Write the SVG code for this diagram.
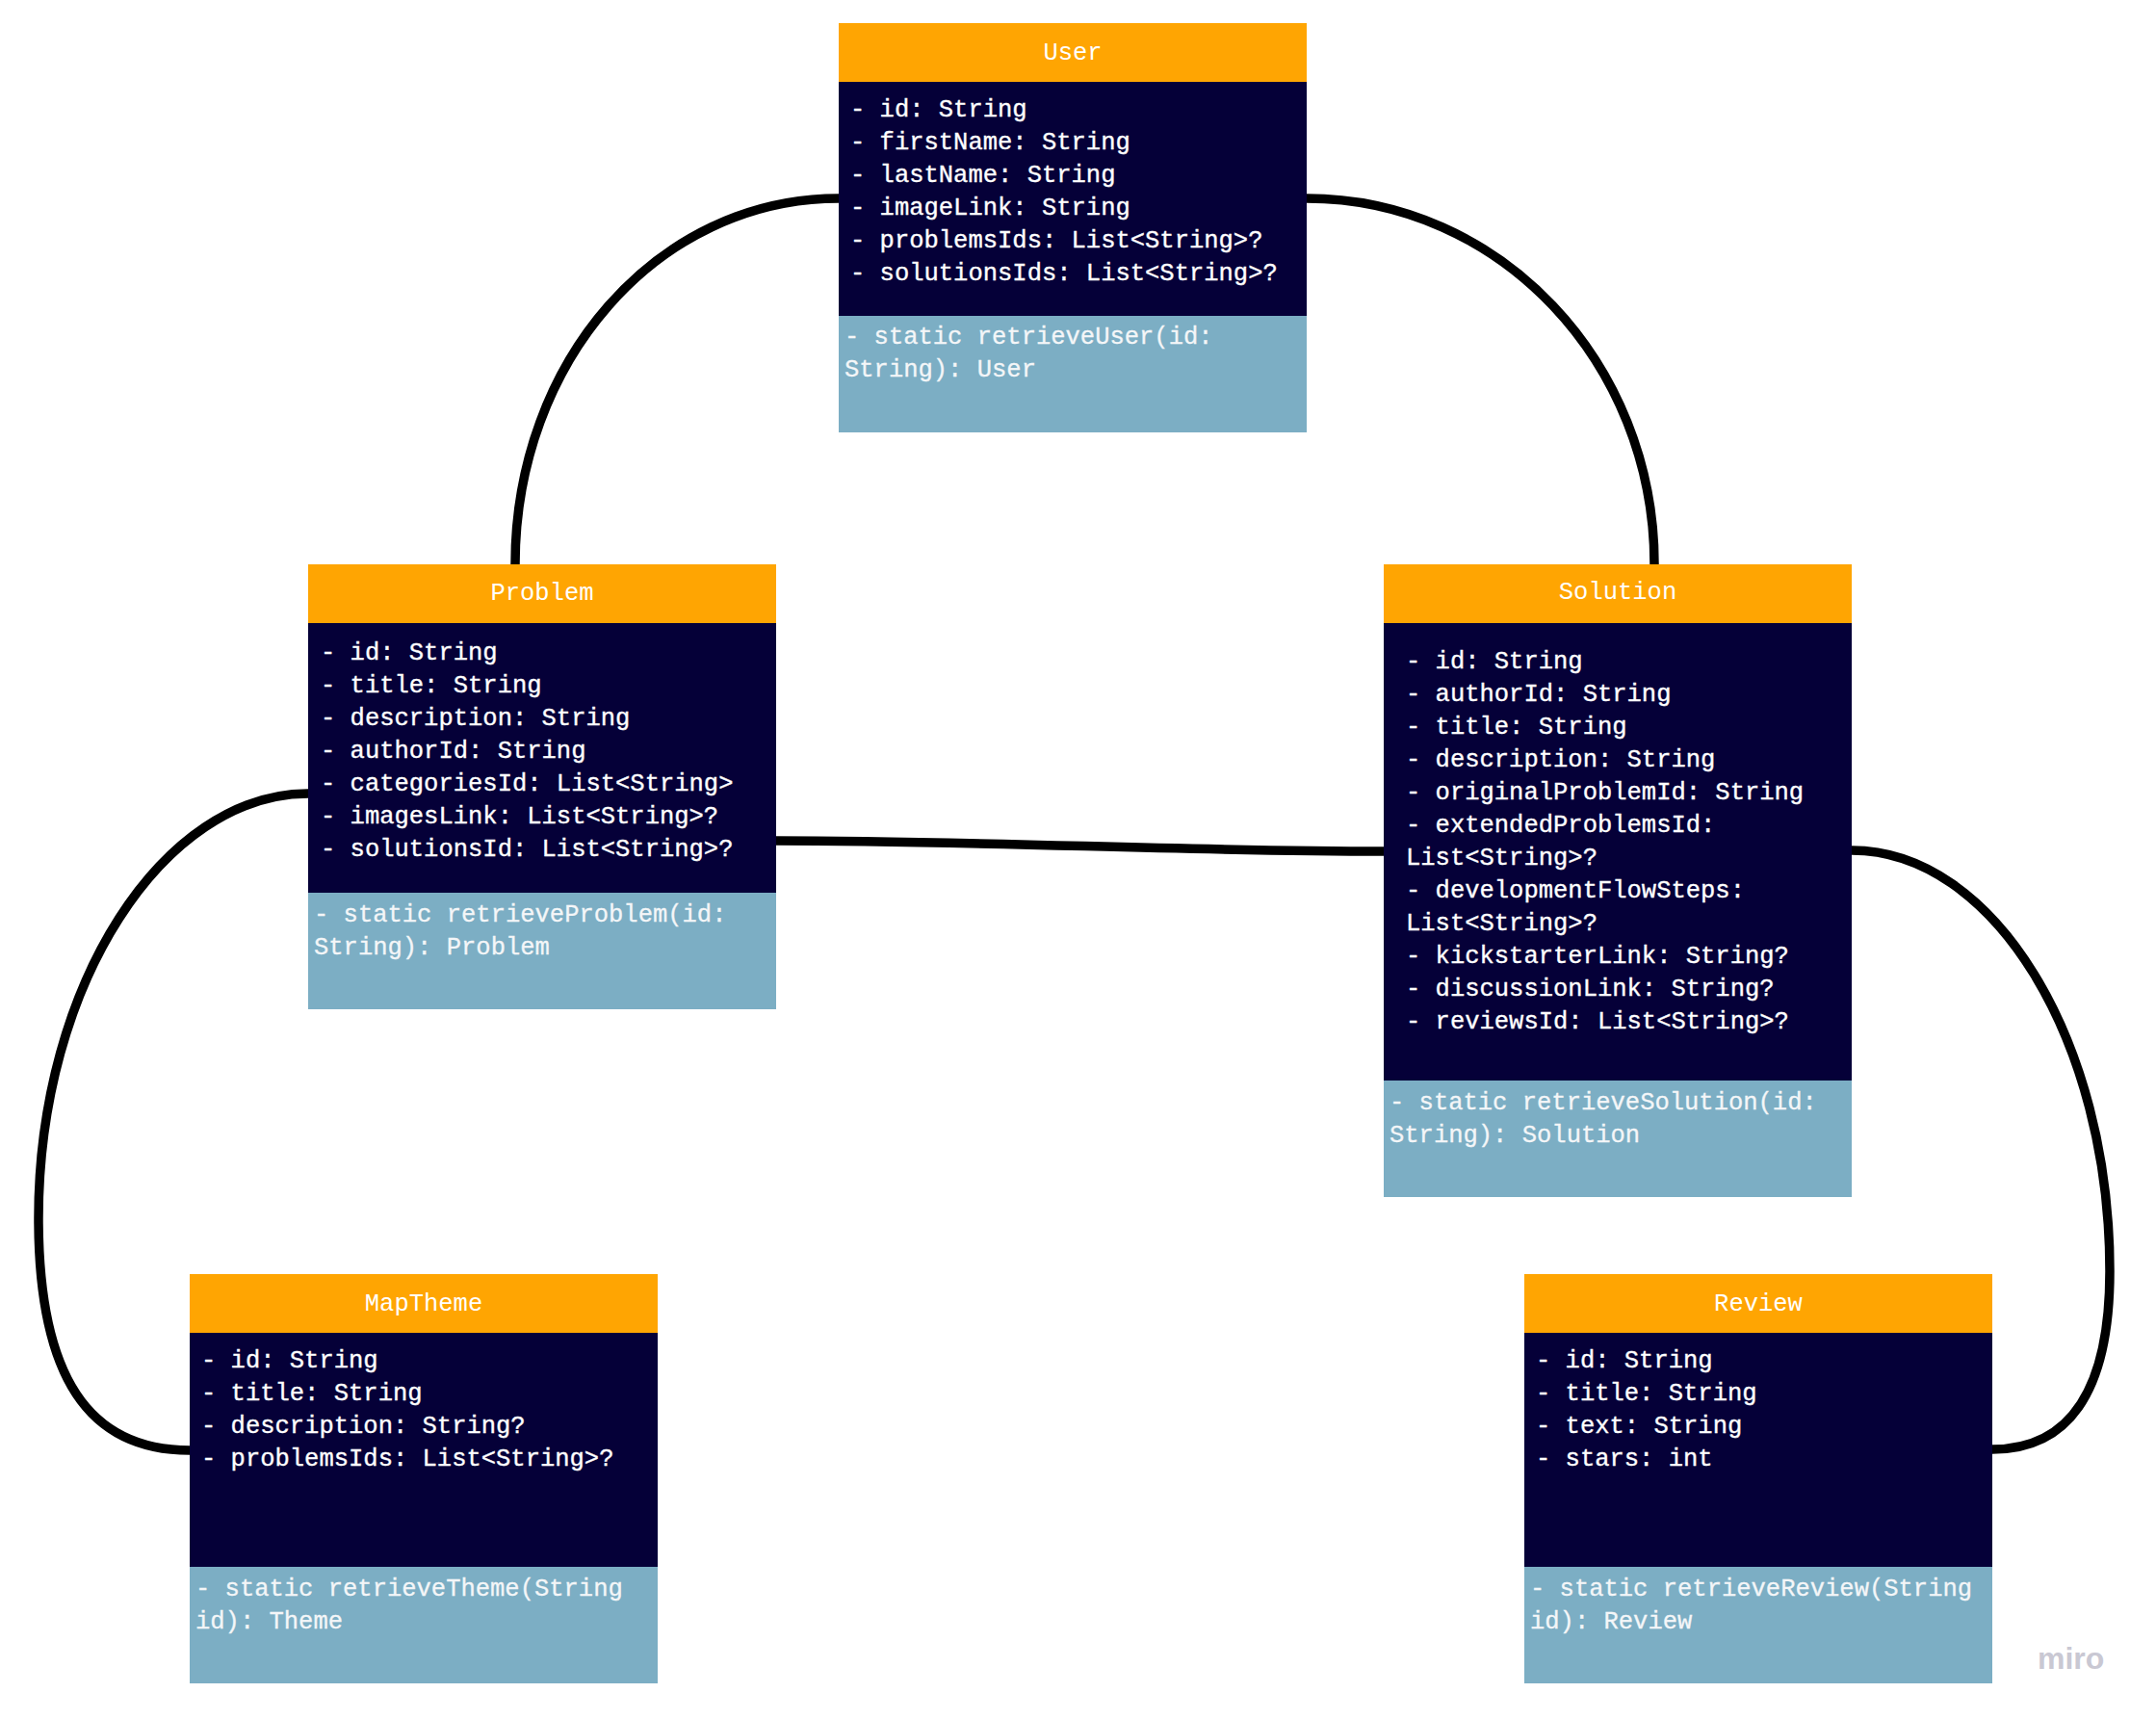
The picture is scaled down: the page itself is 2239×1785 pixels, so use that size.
<svg xmlns="http://www.w3.org/2000/svg" width="2239" height="1785" viewBox="0 0 2239 1785">
  <style>
    .hdr { fill: #FFA502; }
    .body { fill: #050038; }
    .meth { fill: #7CAEC4; }
    .title { font-family: "Liberation Mono", "DejaVu Sans Mono", monospace; font-size: 25.5px; fill: #FFFFFF; text-anchor: middle; }
    .attr { font-family: "Liberation Mono", "DejaVu Sans Mono", monospace; font-size: 25.5px; fill: #FFFFFF; stroke: #FFFFFF; stroke-width: 0.35; }
    .op { font-family: "Liberation Mono", "DejaVu Sans Mono", monospace; font-size: 25.5px; fill: #F4F6F8; stroke: #F4F6F8; stroke-width: 0.3; }
    .edge { fill: none; stroke: #000000; stroke-width: 9.5; stroke-linecap: butt; }
    .brand { font-family: "Liberation Sans", Arial, sans-serif; font-size: 32px; font-weight: bold; fill: #C9C8D3; }
  </style>

  <rect width="2239" height="1785" fill="#FFFFFF"/>

  <!-- associations between the classes -->
  <g id="connectors">
    <path id="user-problem" class="edge" d="M 871 206 C 682 206, 535 376, 535 586"/>
    <path id="user-solution" class="edge" d="M 1357 206 C 1557 206, 1718 376, 1718 586"/>
    <path id="problem-solution" class="edge" d="M 806 873 C 1020 873, 1230 884, 1437 884"/>
    <path id="problem-maptheme" class="edge" d="M 320 824 C 170 824, 40 1022, 40 1265 C 40 1430, 92 1506, 197 1506"/>
    <path id="solution-review" class="edge" d="M 1923 883 C 2070 883, 2191 1079, 2191 1320 C 2191 1450, 2145 1505, 2069 1505"/>
  </g>

  <!-- User -->
  <g id="node-user">
    <rect class="hdr" x="871" y="24" width="486" height="61"/>
    <rect class="body" x="871" y="85" width="486" height="243"/>
    <rect class="meth" x="871" y="328" width="486" height="121"/>
    <text class="title" x="1114" y="62">User</text>
    <text class="attr">
      <tspan x="883" y="121">- id: String</tspan>
      <tspan x="883" dy="34">- firstName: String</tspan>
      <tspan x="883" dy="34">- lastName: String</tspan>
      <tspan x="883" dy="34">- imageLink: String</tspan>
      <tspan x="883" dy="34">- problemsIds: List&lt;String&gt;?</tspan>
      <tspan x="883" dy="34">- solutionsIds: List&lt;String&gt;?</tspan>
    </text>
    <text class="op">
      <tspan x="877" y="357">- static retrieveUser(id:</tspan>
      <tspan x="877" dy="34">String): User</tspan>
    </text>
  </g>

  <!-- Problem -->
  <g id="node-problem">
    <rect class="hdr" x="320" y="586" width="486" height="61"/>
    <rect class="body" x="320" y="647" width="486" height="280"/>
    <rect class="meth" x="320" y="927" width="486" height="121"/>
    <text class="title" x="563" y="623">Problem</text>
    <text class="attr">
      <tspan x="333" y="685">- id: String</tspan>
      <tspan x="333" dy="34">- title: String</tspan>
      <tspan x="333" dy="34">- description: String</tspan>
      <tspan x="333" dy="34">- authorId: String</tspan>
      <tspan x="333" dy="34">- categoriesId: List&lt;String&gt;</tspan>
      <tspan x="333" dy="34">- imagesLink: List&lt;String&gt;?</tspan>
      <tspan x="333" dy="34">- solutionsId: List&lt;String&gt;?</tspan>
    </text>
    <text class="op">
      <tspan x="326" y="957">- static retrieveProblem(id:</tspan>
      <tspan x="326" dy="34">String): Problem</tspan>
    </text>
  </g>

  <!-- Solution -->
  <g id="node-solution">
    <rect class="hdr" x="1437" y="586" width="486" height="61"/>
    <rect class="body" x="1437" y="647" width="486" height="475"/>
    <rect class="meth" x="1437" y="1122" width="486" height="121"/>
    <text class="title" x="1680" y="622">Solution</text>
    <text class="attr">
      <tspan x="1460" y="694">- id: String</tspan>
      <tspan x="1460" dy="34">- authorId: String</tspan>
      <tspan x="1460" dy="34">- title: String</tspan>
      <tspan x="1460" dy="34">- description: String</tspan>
      <tspan x="1460" dy="34">- originalProblemId: String</tspan>
      <tspan x="1460" dy="34">- extendedProblemsId:</tspan>
      <tspan x="1460" dy="34">List&lt;String&gt;?</tspan>
      <tspan x="1460" dy="34">- developmentFlowSteps:</tspan>
      <tspan x="1460" dy="34">List&lt;String&gt;?</tspan>
      <tspan x="1460" dy="34">- kickstarterLink: String?</tspan>
      <tspan x="1460" dy="34">- discussionLink: String?</tspan>
      <tspan x="1460" dy="34">- reviewsId: List&lt;String&gt;?</tspan>
    </text>
    <text class="op">
      <tspan x="1443" y="1152">- static retrieveSolution(id:</tspan>
      <tspan x="1443" dy="34">String): Solution</tspan>
    </text>
  </g>

  <!-- MapTheme -->
  <g id="node-maptheme">
    <rect class="hdr" x="197" y="1323" width="486" height="61"/>
    <rect class="body" x="197" y="1384" width="486" height="243"/>
    <rect class="meth" x="197" y="1627" width="486" height="121"/>
    <text class="title" x="440" y="1361">MapTheme</text>
    <text class="attr">
      <tspan x="209" y="1420">- id: String</tspan>
      <tspan x="209" dy="34">- title: String</tspan>
      <tspan x="209" dy="34">- description: String?</tspan>
      <tspan x="209" dy="34">- problemsIds: List&lt;String&gt;?</tspan>
    </text>
    <text class="op">
      <tspan x="203" y="1657">- static retrieveTheme(String</tspan>
      <tspan x="203" dy="34">id): Theme</tspan>
    </text>
  </g>

  <!-- Review -->
  <g id="node-review">
    <rect class="hdr" x="1583" y="1323" width="486" height="61"/>
    <rect class="body" x="1583" y="1384" width="486" height="243"/>
    <rect class="meth" x="1583" y="1627" width="486" height="121"/>
    <text class="title" x="1826" y="1361">Review</text>
    <text class="attr">
      <tspan x="1595" y="1420">- id: String</tspan>
      <tspan x="1595" dy="34">- title: String</tspan>
      <tspan x="1595" dy="34">- text: String</tspan>
      <tspan x="1595" dy="34">- stars: int</tspan>
    </text>
    <text class="op">
      <tspan x="1589" y="1657">- static retrieveReview(String</tspan>
      <tspan x="1589" dy="34">id): Review</tspan>
    </text>
  </g>

  <text class="brand" x="2116" y="1733">miro</text>
</svg>
